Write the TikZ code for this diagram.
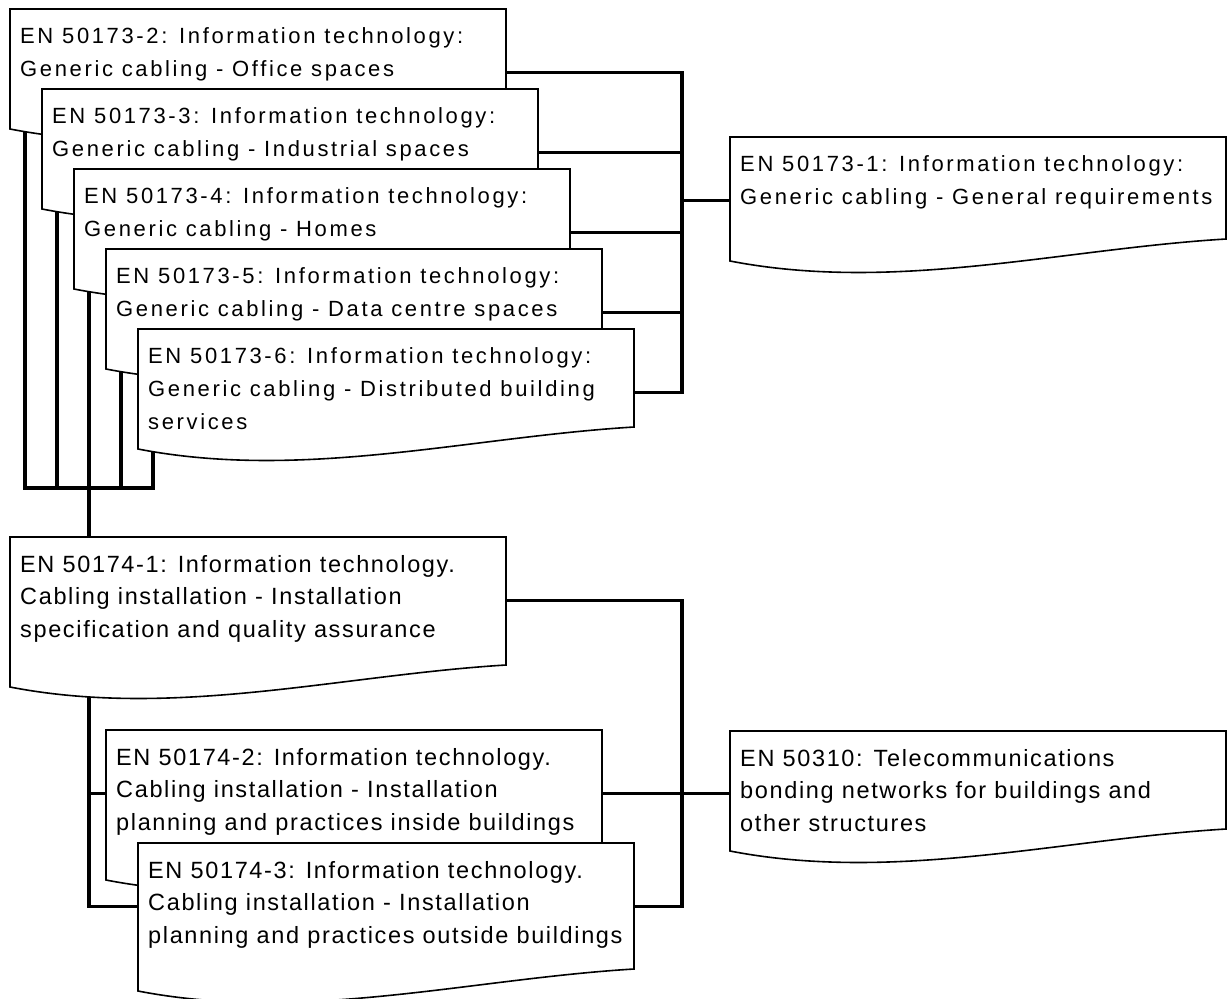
\documentclass[tikz,border=0pt]{standalone}
\usepackage{fontspec}
\setmainfont{Liberation Sans}
\newfontfamily\cablefont{Liberation Sans}[LetterSpace=12]
\newfontfamily\installfont{Liberation Sans}[LetterSpace=7]
\usepackage{tikz}
\pgfdeclarelayer{background}
\pgfsetlayers{background,main}

\begin{document}
\begin{tikzpicture}[x=1pt, y=-1pt]
    \tikzstyle{docbody} = [rectangle, inner sep=0pt, minimum width=496pt, minimum height=126pt, anchor=north west]
    \tikzstyle{docline} = [draw=black, fill=white, line width=1.6pt]
    \tikzstyle{doctext} = [anchor=north west, inner sep=0pt, xshift=10pt, yshift=-18pt, align=left]
    \tikzstyle{cabletext} = [doctext, font={\cablefont\fontsize{22}{33}\selectfont}]
    \tikzstyle{insttext} = [doctext, font={\installfont\fontsize{23.5}{32.5}\selectfont}]
    \tikzstyle{wire} = [line width=3.4pt]

    \useasboundingbox (0,0) rectangle (1230,998);

    % Generic cabling (each sheet lies over the one before)
    \foreach \nm/\px/\py/\ph/\txt in {
        d2/10/9/120/{EN 50173-2: Information technology:\\Generic cabling - Office spaces},
        d3/42/89/120/{EN 50173-3: Information technology:\\Generic cabling - Industrial spaces},
        d4/74/169/120/{EN 50173-4: Information technology:\\Generic cabling - Homes},
        d5/106/249/120/{EN 50173-5: Information technology:\\Generic cabling - Data centre spaces},
        d6/138/329/120/{EN 50173-6: Information technology:\\Generic cabling - Distributed building\\services},
        d1/730/137/124/{EN 50173-1: Information technology:\\Generic cabling - General requirements}}{
        \filldraw[docline] (\px,\py) -- (\px+496,\py) -- (\px+496,\py+\ph-22)
            .. controls (\px+331,\py+\ph-12) and (\px+165,\py+\ph+32) .. (\px,\py+\ph) -- cycle;
        \node[docbody] (\nm) at (\px,\py) {};
        \node[cabletext] at (\nm.north west) {\txt};
    }

    % Cabling installation and bonding
    \foreach \nm/\px/\py/\ph/\txt in {
        e1/10/537/150/{EN 50174-1: Information technology.\\Cabling installation - Installation\\specification and quality assurance},
        e2/106/730/150/{EN 50174-2: Information technology.\\Cabling installation - Installation\\planning and practices inside buildings},
        e3/138/843/148/{EN 50174-3: Information technology.\\Cabling installation - Installation\\planning and practices outside buildings},
        e5/730/731/120/{EN 50310: Telecommunications\\bonding networks for buildings and\\other structures}}{
        \filldraw[docline] (\px,\py) -- (\px+496,\py) -- (\px+496,\py+\ph-22)
            .. controls (\px+331,\py+\ph-12) and (\px+165,\py+\ph+32) .. (\px,\py+\ph) -- cycle;
        \node[docbody] (\nm) at (\px,\py) {};
        \node[insttext] at (\nm.north west) {\txt};
    }

    % Connectors, under the sheets
    \begin{pgfonlayer}{background}
        \coordinate (rbus) at (682,0);
        \coordinate (lbus) at (0,488);
        \draw[wire] ([xshift=15pt]d2.west) -- ([xshift=15pt]d2.west |- lbus)
            -- ([xshift=15pt]d6.west |- lbus) -- ([xshift=15pt]d6.west);
        \foreach \nm in {d3,d5}
            \draw[wire] ([xshift=15pt]\nm.west) -- ([xshift=15pt]\nm.west |- lbus);
        \draw[wire] ([xshift=15pt]d4.west) -- ([xshift=15pt]d4.west |- e3.west) -- (e3.west);
        \draw[wire] ([xshift=15pt]d4.west |- e2.west) -- (e2.west);

        \draw[wire] (d2.east) -- (d2.east -| rbus) -- (d6.east -| rbus) -- (d6.east);
        \foreach \nm in {d3,d4,d5}
            \draw[wire] (\nm.east) -- (\nm.east -| rbus);
        \draw[wire] (d1.west) -- (d1.west -| rbus);

        \draw[wire] (e1.east) -- (e1.east -| rbus) -- (e3.east -| rbus) -- (e3.east);
        \draw[wire] (e2.east) -- (e2.east -| e5.west);
    \end{pgfonlayer}
\end{tikzpicture}
\end{document}
